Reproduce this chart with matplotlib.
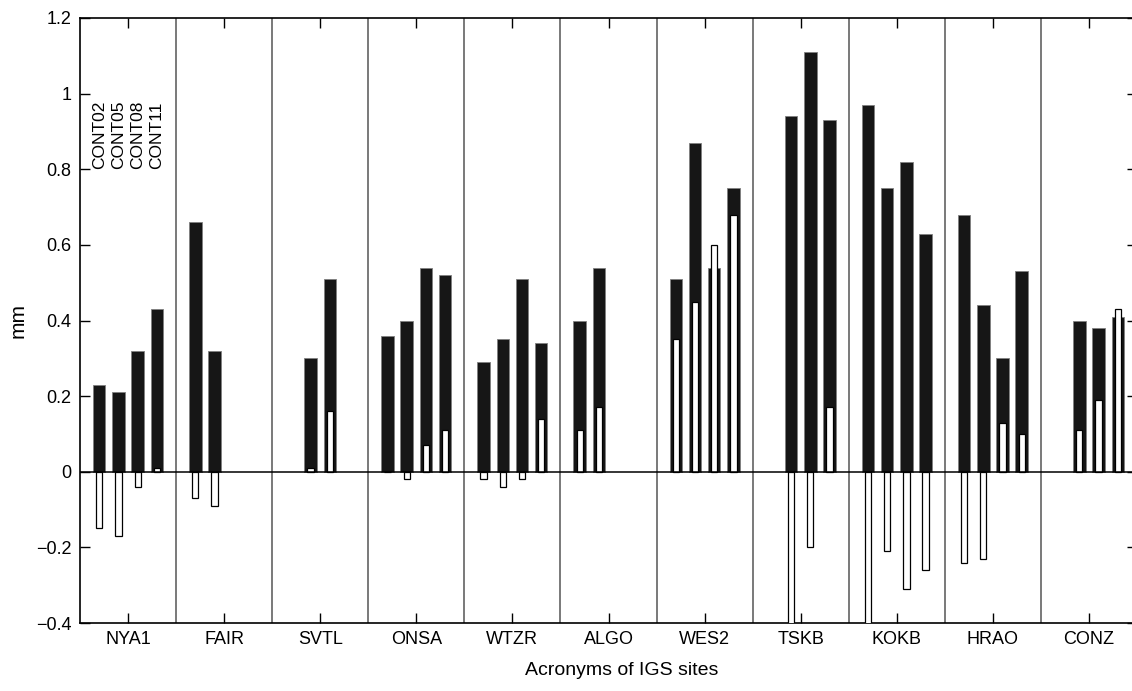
import numpy as np
import matplotlib
matplotlib.use("Agg")
import matplotlib.pyplot as plt

plt.rcParams["font.family"] = ["Liberation Sans", "DejaVu Sans"]

# -------------------------
# data
# -------------------------
sites = ["NYA1", "FAIR", "SVTL", "ONSA", "WTZR", "ALGO",
         "WES2", "TSKB", "KOKB", "HRAO", "CONZ"]
campaigns = ["CONT02", "CONT05", "CONT08", "CONT11"]
nan = np.nan

# wide black bars (one list per campaign, one value per site)
rms_cont02 = [0.23, 0.66, nan, 0.36, 0.29, 0.40, 0.51, nan, 0.97, 0.68, nan]
rms_cont05 = [0.21, 0.32, 0.30, 0.40, 0.35, 0.54, 0.87, 0.94, 0.75, 0.44, 0.40]
rms_cont08 = [0.32, nan, 0.51, 0.54, 0.51, nan, 0.54, 1.11, 0.82, 0.30, 0.38]
rms_cont11 = [0.43, nan, nan, 0.52, 0.34, nan, 0.75, 0.93, 0.63, 0.53, 0.41]

# narrow white bars
mean_cont02 = [-0.15, -0.07, nan, 0.00, -0.02, 0.11, 0.35, nan, -0.45, -0.24, nan]
mean_cont05 = [-0.17, -0.09, 0.01, -0.02, -0.04, 0.17, 0.45, -0.45, -0.21, -0.23, 0.11]
mean_cont08 = [-0.04, nan, 0.16, 0.07, -0.02, nan, 0.60, -0.20, -0.31, 0.13, 0.19]
mean_cont11 = [0.01, nan, nan, 0.11, 0.14, nan, 0.68, 0.17, -0.26, 0.10, 0.43]

yticks = [-0.4, -0.2, 0, 0.2, 0.4, 0.6, 0.8, 1.0, 1.2]
ytick_labels = ["\u22120.4", "\u22120.2", "0", "0.2", "0.4", "0.6", "0.8", "1", "1.2"]

rms_all = [rms_cont02, rms_cont05, rms_cont08, rms_cont11]
mean_all = [mean_cont02, mean_cont05, mean_cont08, mean_cont11]

# -------------------------
# plot
# -------------------------
W, H = 1132, 691
fig = plt.figure(figsize=(W / 100, H / 100), dpi=100)
ax = fig.add_axes([80 / W, 1 - 623 / H, 1057 / W, 605 / H])

x = np.arange(1, len(sites) + 1)
offsets = [-0.3, -0.1, 0.1, 0.3]

for k in range(len(campaigns)):
    ax.bar(x + offsets[k], rms_all[k], width=0.13, color="#161616",
           edgecolor="#808080", linewidth=0.6, zorder=2)
for k in range(len(campaigns)):
    ax.bar(x + offsets[k], mean_all[k], width=0.065, color="white",
           edgecolor="black", linewidth=0.9, zorder=3)

# campaign names above first site
for k, name in enumerate(campaigns):
    ax.text(x[0] + offsets[k], 0.8, name, rotation=90, ha="center",
            va="bottom", fontsize=12.5)

for s in x[:-1]:
    ax.axvline(s + 0.5, color="#555555", linewidth=1.1, zorder=1)
ax.axhline(0, color="black", linewidth=1.1, zorder=4)

ax.set_xlim(0.5, 11.5)
ax.set_ylim(-0.4, 1.2)
ax.set_xticks(x)
ax.set_xticklabels(sites, fontsize=13)
ax.set_yticks(yticks)
ax.set_yticklabels(ytick_labels, fontsize=13)
ax.tick_params(direction="in", length=7.5, width=1, top=True, right=True,
               pad=6)
for sp in ax.spines.values():
    sp.set_linewidth(1.2)

ax.set_xlabel("Acronyms of IGS sites", fontsize=14)
ax.xaxis.set_label_coords(0.5125, -0.064)
ax.set_ylabel("mm", fontsize=15)
ax.yaxis.set_label_coords(-0.05, 0.5)

fig.savefig("out.png", dpi=100)
